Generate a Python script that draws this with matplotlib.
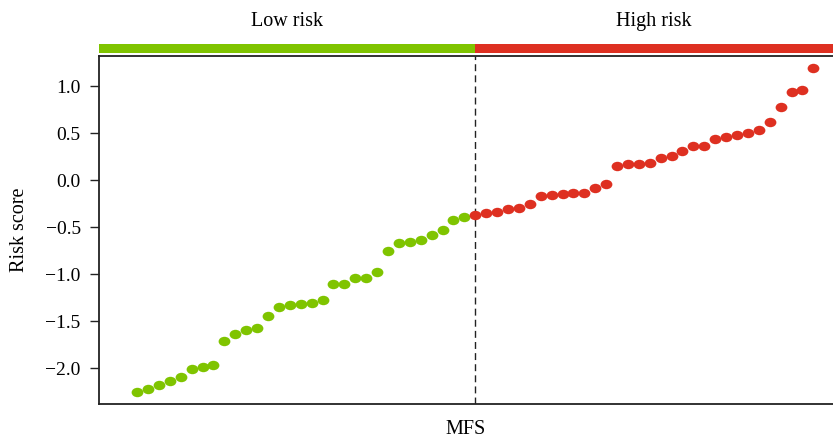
import numpy as np
import matplotlib.pyplot as plt
from matplotlib.path import Path
from matplotlib.transforms import Affine2D

plt.rcParams['font.family'] = ['Liberation Serif', 'DejaVu Serif']

# risk scores sorted ascending, split by the median cut-off
low_scores = [-2.25, -2.22, -2.18, -2.14, -2.09, -2.01, -1.99, -1.96, -1.71, -1.64,
              -1.59, -1.57, -1.44, -1.35, -1.33, -1.32, -1.30, -1.27, -1.10, -1.10,
              -1.04, -1.04, -0.97, -0.75, -0.67, -0.66, -0.64, -0.58, -0.53, -0.42,
              -0.39]
high_scores = [-0.37, -0.35, -0.34, -0.31, -0.29, -0.25, -0.17, -0.16, -0.15, -0.14,
               -0.13, -0.08, -0.04, 0.15, 0.17, 0.17, 0.18, 0.24, 0.26, 0.31,
               0.36, 0.37, 0.44, 0.46, 0.48, 0.50, 0.54, 0.62, 0.78, 0.94,
               0.96, 1.19]
group_labels = ["Low risk", "High risk"]
green = "#7fc400"
red = "#de3021"

n_low = len(low_scores)
n_all = n_low + len(high_scores)
x_low = np.arange(1, n_low + 1)
x_high = np.arange(n_low + 1, n_all + 1)
cut = n_low + 1
xlim = (-2.5, 64.8)

# slightly flattened dot marker
ellipse = Path.unit_circle().transformed(Affine2D().scale(1.0, 0.8))

fig = plt.figure(figsize=(8.33, 4.4), dpi=100)
ax = fig.add_axes([0.1188, 0.0811, 0.8812, 0.7923])
ax.scatter(x_low, low_scores, marker=ellipse, s=72, color=green, lw=0, zorder=3)
ax.scatter(x_high, high_scores, marker=ellipse, s=72, color=red, lw=0, zorder=3)
ax.axvline(cut, color="#222222", lw=1.0, ls=(0, (5, 3)), zorder=2)

ax.set_xlim(*xlim)
ax.set_ylim(-2.383, 1.326)
ax.set_yticks([1.0, 0.5, 0.0, -0.5, -1.0, -1.5, -2.0])
ax.set_yticklabels(["1.0", "0.5", "0.0", "\u22120.5", "\u22121.0", "\u22121.5", "\u22122.0"])
ax.set_xticks([])
ax.tick_params(axis="y", labelsize=14, length=6.2, width=1.0, color="#222222", pad=7)
ax.spines["right"].set_visible(False)
for side in ["left", "bottom", "top"]:
    ax.spines[side].set_linewidth(1.3)
    ax.spines[side].set_color("#222222")
ax.set_ylabel("Risk score", fontsize=14.5, labelpad=12)
ax.set_xlabel("MFS", fontsize=14.5, labelpad=11)

# group bar on top
bar = fig.add_axes([0.1188, 0.8795, 0.8812, 0.0205])
bar.axvspan(xlim[0], cut, color=green, lw=0)
bar.axvspan(cut, xlim[1], color=red, lw=0)
bar.set_xlim(*xlim)
bar.set_ylim(0, 1)
bar.axis("off")
bar.text((xlim[0] + cut) / 2, 3.5, group_labels[0], ha="center", va="center", fontsize=14.5)
bar.text((cut + xlim[1]) / 2, 3.5, group_labels[1], ha="center", va="center", fontsize=14.5)

fig.savefig("out.png", dpi=100)
